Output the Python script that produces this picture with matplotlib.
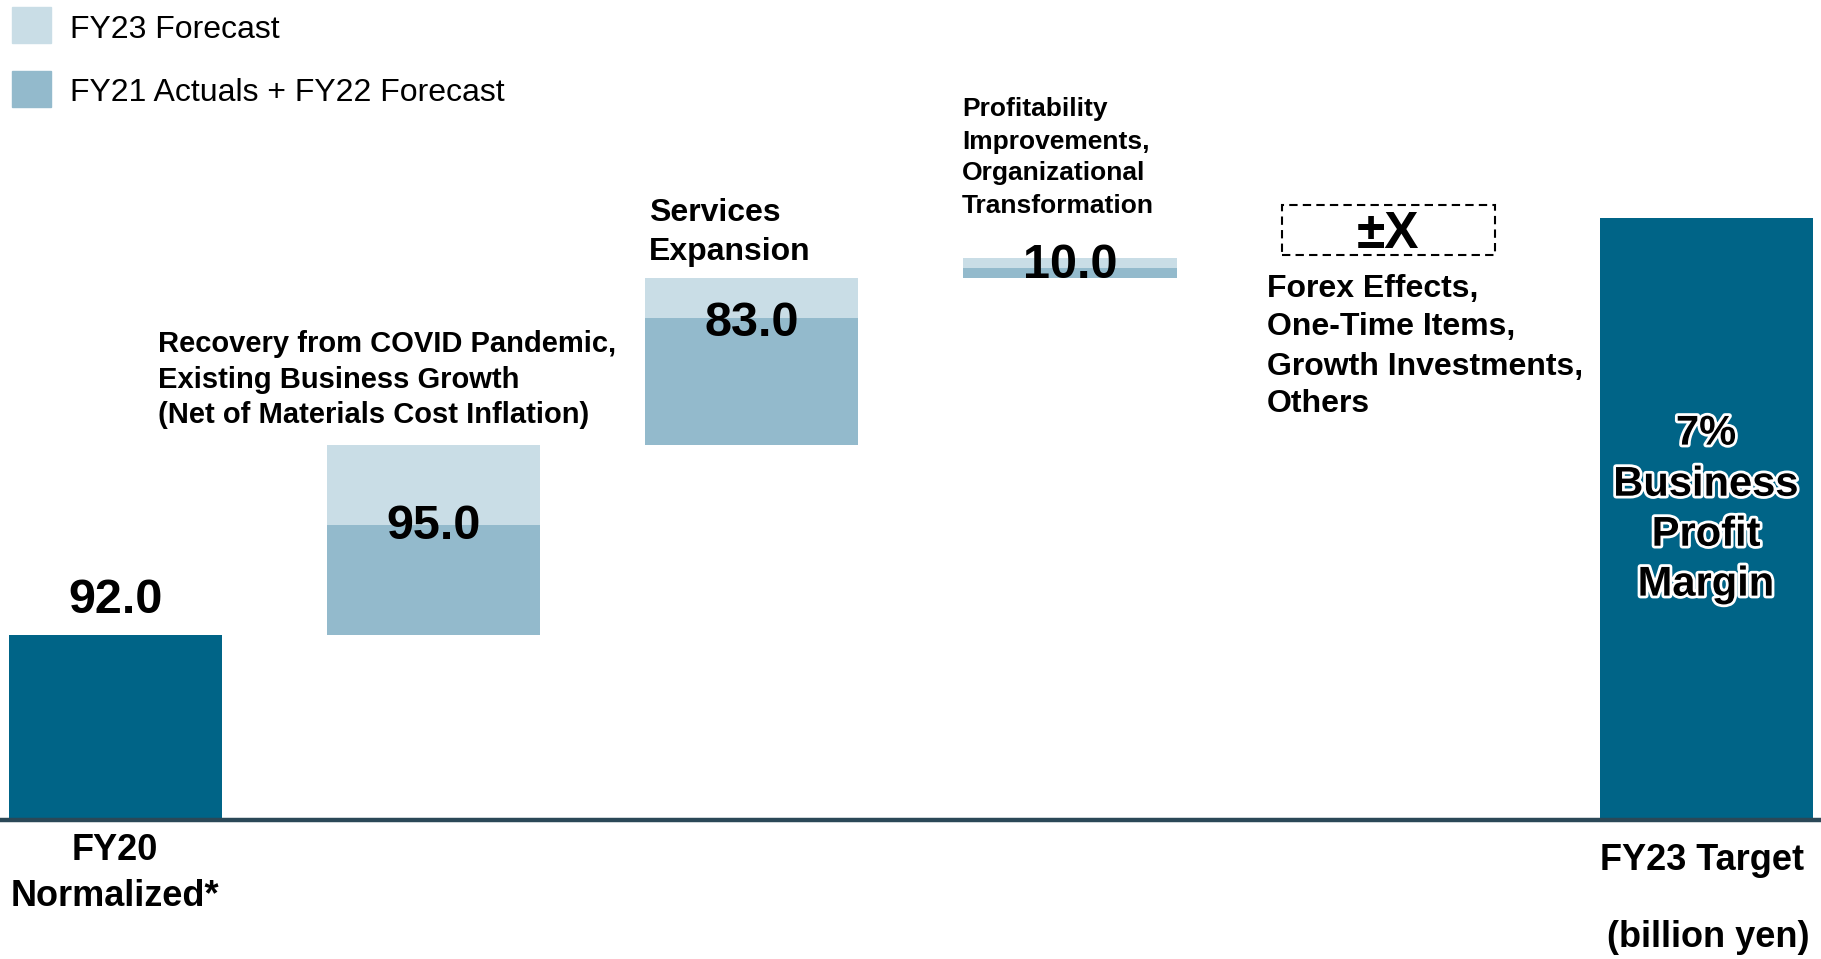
import matplotlib
matplotlib.use("Agg")
import matplotlib.pyplot as plt
import matplotlib.patheffects as pe
from matplotlib.patches import Rectangle

plt.rcParams['font.family'] = ['Liberation Sans', 'DejaVu Sans']

# data (billion yen)
start_label = "FY20\nNormalized*"
start_value = 92.0
step_labels = ["Recovery from COVID Pandemic,\nExisting Business Growth\n(Net of Materials Cost Inflation)",
               "Services\nExpansion",
               "Profitability\nImprovements,\nOrganizational\nTransformation"]
step_totals = [95.0, 83.0, 10.0]
step_fy21_fy22 = [55.0, 63.0, 5.0]   # FY21 actuals + FY22 forecast
step_fy23 = [40.0, 20.0, 5.0]        # FY23 forecast
other_label = "Forex Effects,\nOne-Time Items,\nGrowth Investments,\nOthers"
target_label = "FY23 Target"
target_value = 300.0
target_text = "7%\nBusiness\nProfit\nMargin"
legend_labels = ["FY23 Forecast", "FY21 Actuals + FY22 Forecast"]

DARK = '#006487'
MID = '#93BACC'
LIGHT = '#C9DDE6'

W, H = 1821, 959
fig = plt.figure(figsize=(W / 100, H / 100), dpi=100)
ax = fig.add_axes([0, 0, 1, 1])
ax.set_xlim(-0.363, 5.36)
ax.set_ylim(-69.3, 408.6)
ax.axis('off')

bw = 0.67

# start bar
ax.bar(0, start_value, width=bw, color=DARK)

# floating steps
bottom = start_value
for i, (a, b) in enumerate(zip(step_fy21_fy22, step_fy23)):
    ax.bar(i + 1, a, bottom=bottom, width=bw, color=MID)
    ax.bar(i + 1, b, bottom=bottom + a, width=bw, color=LIGHT)
    bottom += a + b
cum_end = bottom

# +/- X box
ax.bar(4, 25, bottom=cum_end + 1.5, width=bw, fill=False, edgecolor='black',
       linewidth=1.5, linestyle=(0, (4, 2.5)))

# target bar
ax.bar(5, target_value, width=bw, color=DARK)

ax.axhline(0, color='#2B4857', linewidth=3.2, zorder=5)

# value labels
lab_kw = dict(ha='center', va='baseline', fontsize=35, fontweight='bold', color='black', zorder=6)
ax.text(0, start_value + 11.0, f"{start_value:.1f}", **lab_kw)
bottoms = [start_value, start_value + step_totals[0], start_value + sum(step_totals[:2])]
offsets = [48.0, 54.3, -0.1]
for i, (tot, bt, off) in enumerate(zip(step_totals, bottoms, offsets)):
    ax.text(i + 1, bt + off, f"{tot:.1f}", **lab_kw)
ax.text(4, cum_end + 5, "±X", ha='center', va='baseline', fontsize=37, fontweight='bold')


def lines(x, ys, text, size, ha='left', weight='bold', **kw):
    em = size * 100 / 72
    for y, s in zip(ys, text.split('\n')):
        fig.text(x / W, 1 - (y + 0.358 * em) / H, s, fontsize=size, ha=ha,
                 va='baseline', fontweight=weight, **kw)


lines(158, [341.5, 377.5, 412.3], step_labels[0], 21)
lines(649, [210, 248.5], step_labels[1], 23)
lines(962, [106.8, 139.4, 170.7, 203.2], step_labels[2], 19)
lines(1267, [285.7, 324, 363.5, 400.7], other_label, 23)

lines(1706, [429.7, 480.8, 530.8, 580.7], target_text, 30, ha='center',
      path_effects=[pe.withStroke(linewidth=4, foreground='white')])

lines(115, [846.7, 893.1], start_label, 26, ha='center')
lines(1702, [857], target_label, 26, ha='center')
lines(1708, [933.8], "(billion yen)", 26, ha='center')

# legend
for (y0, y1), col, lab, yc in zip([(7, 43), (71, 107)], [LIGHT, MID], legend_labels, [26.7, 89.4]):
    fig.add_artist(Rectangle((12 / W, 1 - y1 / H), 39 / W, (y1 - y0) / H,
                             transform=fig.transFigure, color=col))
    lines(70, [yc], lab, 23, weight='normal')

fig.savefig("out.png", dpi=100)
